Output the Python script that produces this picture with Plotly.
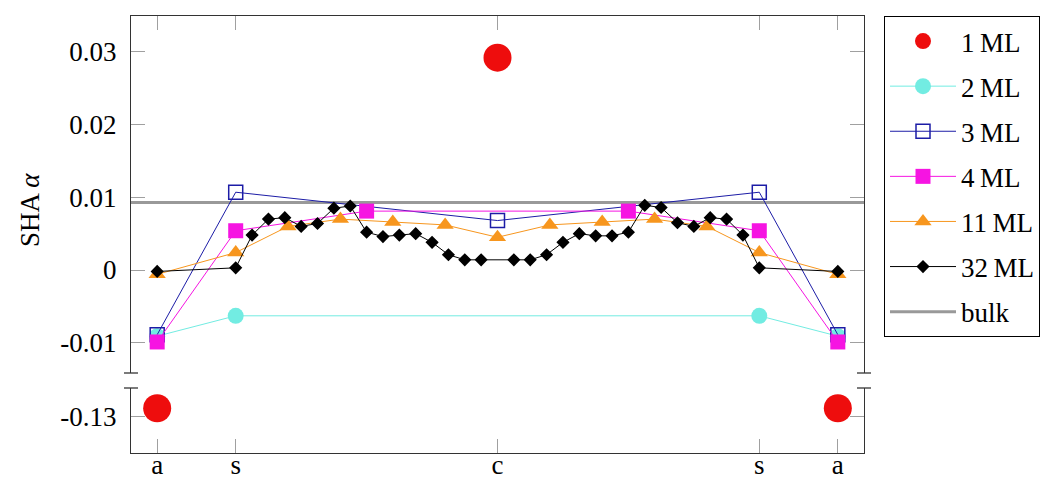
import plotly.graph_objects as go

# ---------------- data ----------------
x_a = 20.8   # position of the "a" sites (in layer units, c = 0, s = +/-16)
tick_vals = [-x_a, -16, 0, 16, x_a]
tick_text = ["a", "s", "c", "s", "a"]

# 1 ML
ml1_x_top = [0]
ml1_y_top = [0.0292]
ml1_x_bot = [-x_a, x_a]
ml1_y_bot = [-0.1288, -0.1288]

# 2 ML
ml2_x = [-x_a, -16, 16, x_a]
ml2_y = [-0.0091, -0.0063, -0.0063, -0.0091]

# 3 ML
ml3_x = [-x_a, -16, 0, 16, x_a]
ml3_y = [-0.0089, 0.0107, 0.0068, 0.0107, -0.0089]

# 4 ML
ml4_x = [-x_a, -16, -8, 8, 16, x_a]
ml4_y = [-0.0099, 0.0054, 0.0081, 0.0081, 0.0054, -0.0099]

# 11 ML
ml11_x = [-x_a, -16, -12.8, -9.6, -6.4, -3.2, 0, 3.2, 6.4, 9.6, 12.8, 16, x_a]
ml11_y = [-0.0006, 0.0024, 0.0060, 0.0070, 0.0066, 0.0062, 0.0045,
          0.0062, 0.0066, 0.0070, 0.0060, 0.0024, -0.0006]

# 32 ML
ml32_x = ([-x_a] + list(range(-16, 0)) + list(range(1, 17)) + [x_a])
ml32_y = [-0.0002,
          0.0003, 0.0048, 0.0070, 0.0072, 0.0060, 0.0064, 0.0085, 0.0088,
          0.0052, 0.0046, 0.0048, 0.0050, 0.0038, 0.0021, 0.0014, 0.0014,
          0.0014, 0.0014, 0.0021, 0.0038, 0.0050, 0.0047, 0.0047, 0.0052,
          0.0089, 0.0086, 0.0065, 0.0060, 0.0072, 0.0070, 0.0048, 0.0003,
          -0.0002]

bulk_value = 0.0093

x_range = [-22.4, 22.4]
top_range = [-0.014168, 0.034938]
bot_range = [-0.13496, -0.12601]
top_ticks = [-0.01, 0, 0.01, 0.02, 0.03]
top_ticktext = ["-0.01", "0", "0.01", "0.02", "0.03"]
bot_ticks = [-0.13]
bot_ticktext = ["-0.13"]

# ---------------- style ----------------
FONT = "Liberation Serif"
FS = 27
RED = "#ee0d0d"
CYAN = "#72ece2"
BLUE = "#1c1ca6"
MAGENTA = "#f614e2"
ORANGE = "#f7961e"
BLACK = "#000000"
GRAY = "#999999"

fig = go.Figure()

# bulk line (drawn first so markers sit on top)
fig.add_trace(go.Scatter(x=x_range, y=[bulk_value, bulk_value], mode="lines",
                         line=dict(color=GRAY, width=3), name="bulk",
                         xaxis="x2", yaxis="y2", legendgroup="g7", legendrank=7))

fig.add_trace(go.Scatter(x=ml1_x_top, y=ml1_y_top, mode="markers", name="1\u2009ML",
                         marker=dict(color=RED, size=28, symbol="circle"),
                         xaxis="x2", yaxis="y2", legendgroup="g1", legendrank=1))
fig.add_trace(go.Scatter(x=ml1_x_bot, y=ml1_y_bot, mode="markers", name="1\u2009ML",
                         marker=dict(color=RED, size=28, symbol="circle"),
                         xaxis="x", yaxis="y", legendgroup="g1", showlegend=False))

fig.add_trace(go.Scatter(x=ml2_x, y=ml2_y, mode="lines+markers", name="2\u2009ML",
                         line=dict(color=CYAN, width=1),
                         marker=dict(color=CYAN, size=16, symbol="circle"),
                         xaxis="x2", yaxis="y2", legendgroup="g2", legendrank=2))
fig.add_trace(go.Scatter(x=ml3_x, y=ml3_y, mode="lines+markers", name="3\u2009ML",
                         line=dict(color=BLUE, width=1),
                         marker=dict(color=BLUE, size=14, symbol="square-open",
                                     line=dict(width=1.5, color=BLUE)),
                         xaxis="x2", yaxis="y2", legendgroup="g3", legendrank=3))
fig.add_trace(go.Scatter(x=ml4_x, y=ml4_y, mode="lines+markers", name="4\u2009ML",
                         line=dict(color=MAGENTA, width=1),
                         marker=dict(color=MAGENTA, size=15, symbol="square"),
                         xaxis="x2", yaxis="y2", legendgroup="g4", legendrank=4))
fig.add_trace(go.Scatter(x=ml11_x, y=ml11_y, mode="lines+markers", name="11\u2009ML",
                         line=dict(color=ORANGE, width=1),
                         marker=dict(color=ORANGE, size=15, symbol="triangle-up"),
                         xaxis="x2", yaxis="y2", legendgroup="g5", legendrank=5))
fig.add_trace(go.Scatter(x=ml32_x, y=ml32_y, mode="lines+markers", name="32\u2009ML",
                         line=dict(color=BLACK, width=1),
                         marker=dict(color=BLACK, size=8.5, symbol="diamond",
                                     line=dict(color=BLACK, width=1.5)),
                         xaxis="x2", yaxis="y2", legendgroup="g6", legendrank=6))

L, R, T, B = 131, 185, 16, 26
W, H = 1049, 479
ph = H - T - B  # 437
pw = W - L - R
top_dom = [80 / ph, 1]
bot_dom = [0, 65 / ph]

axis_common = dict(showgrid=False, zeroline=False, showline=True, linecolor="#333333",
                   linewidth=1.3, ticks="inside", ticklen=14, tickwidth=1,
                   tickcolor="#a0a0a0", automargin=False,
                   tickfont=dict(family=FONT, size=FS, color="black"))

fig.update_layout(
    width=W, height=H, autosize=False,
    margin=dict(l=L, r=R, t=T, b=B, pad=0, autoexpand=False),
    plot_bgcolor="white", paper_bgcolor="white",
    font=dict(family=FONT, size=FS, color="black"),
    xaxis=dict(axis_common, domain=[0, 1], range=x_range, anchor="y",
               tickvals=tick_vals, ticktext=tick_text, side="bottom", mirror=False,
               ticklabelstandoff=-13),
    xaxis2=dict(axis_common, domain=[0, 1], range=x_range, anchor="y2",
                tickvals=tick_vals, showticklabels=False, side="top", mirror=False,
                matches="x"),
    yaxis=dict(axis_common, domain=bot_dom, range=bot_range, anchor="x",
               tickvals=bot_ticks, ticktext=bot_ticktext, mirror="ticks",
               ticklabelstandoff=8),
    yaxis2=dict(axis_common, domain=top_dom, range=top_range, anchor="x2",
                tickvals=top_ticks, ticktext=top_ticktext, mirror="ticks",
                ticklabelstandoff=8),
    legend=dict(x=(884 - L) / pw, xanchor="left", y=1, yanchor="top",
                bordercolor="black", borderwidth=1, bgcolor="white",
                font=dict(family=FONT, size=FS), tracegroupgap=7,
                itemwidth=66),
    showlegend=True,
)

# broken axis caps
cap = 7 / pw
for yy in (80 / ph, 65 / ph):
    for xx in (0, 1):
        fig.add_shape(type="line", xref="paper", yref="paper",
                      x0=xx - cap, x1=xx + cap, y0=yy, y1=yy,
                      line=dict(color="#333333", width=1.3))

fig.add_annotation(text="SHA <i>α</i>", xref="paper", yref="paper",
                   x=(30 - L) / pw, y=(H - B - 210) / ph, showarrow=False,
                   xanchor="center", yanchor="middle",
                   textangle=-90, font=dict(family=FONT, size=FS))

fig.write_html("out.html")
